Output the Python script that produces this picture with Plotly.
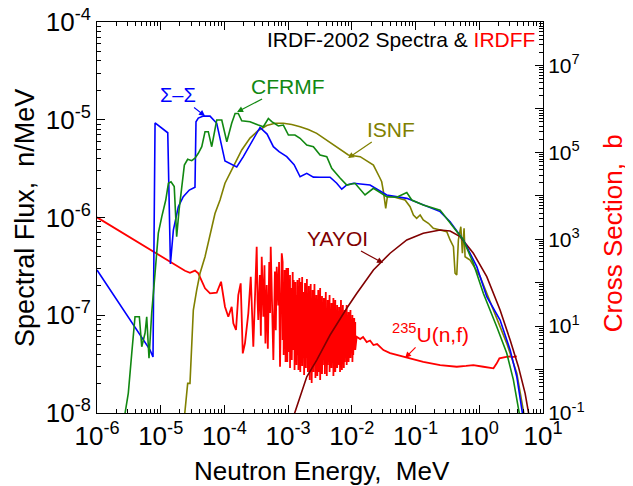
import math
import plotly.graph_objects as go

# ---------------- data ----------------
# Sigma-Sigma spectrum (n/MeV) vs energy (MeV)
ss_E = [1.0e-6, 6.79e-6, 7.57e-6, 8.15e-6, 1.29e-5, 1.42e-5, 1.58e-5, 1.89e-5, 2.26e-5, 2.81e-5,
        3.45e-5, 3.58e-5, 3.89e-5, 4.67e-5, 5.94e-5, 7.57e-5, 1.02e-4, 1.56e-4, 1.98e-4, 2.52e-4,
        3.62e-4, 4.67e-4, 5.86e-4, 7.20e-4, 9.51e-4, 1.24e-3, 1.54e-3, 1.96e-3, 2.49e-3, 3.17e-3,
        4.55e-3, 5.79e-3, 6.94e-3, 8.32e-3, 1.06e-2, 1.93e-2, 3.53e-2, 7.28e-2, 0.132, 0.243,
        0.348, 0.562, 0.914, 1.31, 2.12, 3.05, 3.88, 5.0]
ss_phi = [2.90e-7, 4.42e-8, 3.74e-8, 9.27e-6, 7.36e-6, 3.34e-7, 7.45e-7, 1.29e-6, 1.63e-6, 1.91e-6,
          2.04e-6, 9.55e-6, 1.04e-5, 1.09e-5, 1.09e-5, 9.20e-6, 3.78e-6, 3.29e-6, 4.19e-6, 5.46e-6,
          8.34e-6, 7.14e-6, 5.30e-6, 4.71e-6, 4.19e-6, 3.47e-6, 2.61e-6, 2.83e-6, 2.59e-6, 2.58e-6,
          2.58e-6, 2.24e-6, 1.95e-6, 2.15e-6, 2.24e-6, 2.15e-6, 1.70e-6, 1.57e-6, 1.34e-6, 1.15e-6,
          9.05e-7, 5.89e-7, 3.14e-7, 1.55e-7, 8.93e-8, 4.42e-8, 2.35e-8, 8.0e-9]

# CFRMF spectrum
cf_E = [2.69e-6, 2.92e-6, 3.10e-6, 3.51e-6, 3.95e-6, 4.62e-6, 5.04e-6, 5.68e-6, 6.03e-6, 6.55e-6,
        7.22e-6, 8.15e-6, 9.17e-6, 1.04e-5, 1.20e-5, 1.32e-5, 1.45e-5, 1.63e-5, 1.78e-5, 1.94e-5,
        2.18e-5, 2.35e-5, 2.65e-5, 3.07e-5, 3.45e-5, 3.89e-5, 4.41e-5, 4.96e-5, 5.58e-5, 6.32e-5,
        7.57e-5, 9.08e-5, 1.09e-4, 1.30e-4, 1.47e-4, 1.65e-4, 1.87e-4, 2.52e-4, 3.40e-4, 4.08e-4,
        4.89e-4, 5.53e-4, 7.02e-4, 8.41e-4, 1.01e-3, 1.28e-3, 1.54e-3, 1.96e-3, 2.49e-3, 3.17e-3,
        4.04e-3, 4.83e-3, 6.53e-3, 8.32e-3, 1.12e-2, 1.61e-2, 2.18e-2, 3.53e-2, 5.07e-2, 7.28e-2,
        8.71e-2, 0.132, 0.243, 0.348, 0.562, 0.807, 1.16, 1.88, 2.70, 3.43, 4.5]
cf_phi = [9.0e-9, 1.31e-8, 1.60e-8, 4.08e-8, 9.66e-8, 9.66e-8, 4.76e-8, 6.58e-8, 9.66e-8, 3.63e-8,
          1.05e-7, 2.70e-7, 6.93e-7, 1.02e-6, 1.51e-6, 2.24e-6, 2.32e-6, 2.07e-6, 6.37e-7, 1.19e-6,
          2.24e-6, 3.44e-6, 3.94e-6, 3.81e-6, 4.04e-6, 4.54e-6, 5.30e-6, 7.55e-6, 7.55e-6, 5.30e-6,
          9.93e-6, 9.93e-6, 5.96e-6, 9.20e-6, 1.16e-5, 1.16e-5, 9.77e-6, 9.55e-6, 8.83e-6, 8.49e-6,
          1.03e-5, 9.55e-6, 8.63e-6, 8.83e-6, 6.98e-6, 6.98e-6, 6.46e-6, 5.52e-6, 5.30e-6, 4.36e-6,
          4.19e-6, 3.18e-6, 2.54e-6, 2.15e-6, 2.24e-6, 1.70e-6, 1.99e-6, 1.63e-6, 1.61e-6, 1.80e-6,
          1.51e-6, 1.34e-6, 1.19e-6, 8.73e-7, 5.89e-7, 3.40e-7, 1.67e-7, 7.64e-8, 4.08e-8, 2.18e-8, 8.0e-9]

# ISNF spectrum
is_E = [2.35e-5, 2.65e-5, 2.88e-5, 3.25e-5, 3.67e-5, 4.14e-5, 4.96e-5, 5.94e-5, 7.11e-5, 8.53e-5,
        1.02e-4, 1.38e-4, 1.87e-4, 2.52e-4, 3.40e-4, 4.61e-4, 6.22e-4, 8.41e-4, 1.14e-3, 1.54e-3,
        2.07e-3, 2.81e-3, 3.79e-3, 5.13e-3, 6.53e-3, 8.81e-3, 1.35e-2, 2.18e-2, 2.77e-2, 2.94e-2,
        3.13e-2, 3.40e-2, 3.61e-2, 4.48e-2, 5.37e-2, 6.84e-2, 8.20e-2, 9.25e-2, 0.104, 0.118,
        0.132, 0.159, 0.190, 0.243, 0.309, 0.348, 0.393, 0.417, 0.443, 0.470,
        0.513, 0.543, 0.577, 0.598, 0.718, 1.03, 1.67, 2.70, 3.88, 5.3]
is_phi = [9.0e-9, 2.01e-8, 2.01e-8, 1.13e-7, 1.81e-7, 2.69e-7, 3.97e-7, 6.89e-7, 1.10e-6, 1.51e-6,
          2.24e-6, 3.31e-6, 4.91e-6, 6.50e-6, 7.76e-6, 8.73e-6, 9.20e-6, 9.20e-6, 8.93e-6, 8.49e-6,
          7.94e-6, 7.26e-6, 6.35e-6, 5.52e-6, 5.02e-6, 4.36e-6, 4.19e-6, 3.44e-6, 2.52e-6, 2.32e-6,
          1.84e-6, 1.24e-6, 1.63e-6, 1.63e-6, 1.57e-6, 1.51e-6, 1.29e-6, 1.06e-6, 9.82e-7, 1.06e-6,
          9.42e-7, 8.73e-7, 7.76e-7, 7.45e-7, 7.16e-7, 5.89e-7, 5.02e-7, 2.69e-7, 2.58e-7, 5.89e-7,
          8.05e-7, 4.31e-7, 7.76e-7, 3.97e-7, 3.67e-7, 2.48e-7, 1.13e-7, 5.16e-8, 2.55e-8, 8.0e-9]

# YAYOI spectrum
ya_E = [1.2e-3, 1.96e-3, 2.81e-3, 4.55e-3, 8.32e-3, 1.19e-2, 2.18e-2, 3.98e-2, 7.28e-2, 0.132,
        0.243, 0.348, 0.500, 0.807, 1.31, 2.12, 3.05, 4.11, 5.24, 6.3]
ya_phi = [9.0e-9, 2.35e-8, 3.48e-8, 6.28e-8, 1.18e-7, 1.67e-7, 2.90e-7, 4.31e-7, 5.89e-7, 6.89e-7,
          7.45e-7, 7.28e-7, 6.37e-7, 4.31e-7, 2.48e-7, 1.13e-7, 5.58e-8, 2.98e-8, 1.59e-8, 8.0e-9]

# 235U(n,f) cross section (b) vs energy (MeV), right axis
u_low_E = [1.0e-6, 2.40e-5, 2.88e-5, 3.45e-5, 3.89e-5, 4.96e-5, 5.94e-5, 7.57e-5, 8.85e-5, 9.62e-5]
u_low_sig = [3190, 188, 169, 190, 164, 74, 56.9, 58.7, 105, 47.5]

# isolated resonances
u_res_E = [1.02e-4, 1.15e-4, 1.30e-4, 1.38e-4, 1.52e-4, 1.65e-4, 1.80e-4, 1.94e-4, 2.10e-4, 2.37e-4,
           2.59e-4, 2.84e-4, 3.21e-4, 3.31e-4, 3.40e-4, 3.60e-4, 3.73e-4, 3.85e-4, 4.08e-4, 4.25e-4,
           4.40e-4, 4.61e-4, 4.80e-4, 5.05e-4, 5.20e-4, 5.33e-4, 5.60e-4, 5.86e-4, 6.20e-4, 6.40e-4,
           6.62e-4, 7.00e-4, 7.20e-4, 7.46e-4, 7.94e-4]
u_res_sig = [27.9, 16.4, 27.9, 11.6, 8.13, 51.9, 96.6, 2.36, 4.02, 19.7,
             137, 3.35, 671, 40, 13.8, 150, 6.0, 395, 16.4, 250,
             4.0, 88.3, 3.0, 300, 20, 671, 10, 1.66, 180, 8.0,
             233, 30, 300, 1.16, 473]

# dense resonance band: peak and valley at each energy
u_band_E = [8.2e-4, 8.5e-4, 8.8e-4, 9.1e-4, 9.4e-4, 9.7e-4,
            1.00e-3, 1.03e-3, 1.07e-3, 1.10e-3, 1.14e-3, 1.18e-3, 1.22e-3, 1.26e-3, 1.30e-3, 1.35e-3,
            1.40e-3, 1.45e-3, 1.50e-3, 1.55e-3, 1.60e-3, 1.66e-3, 1.72e-3, 1.78e-3, 1.84e-3, 1.90e-3,
            1.97e-3, 2.04e-3, 2.11e-3, 2.18e-3, 2.26e-3, 2.34e-3, 2.42e-3, 2.50e-3, 2.59e-3, 2.68e-3,
            2.77e-3, 2.87e-3, 2.97e-3, 3.07e-3, 3.18e-3, 3.29e-3, 3.40e-3, 3.52e-3, 3.64e-3, 3.77e-3,
            3.90e-3, 4.04e-3, 4.18e-3, 4.32e-3, 4.47e-3, 4.63e-3, 4.79e-3, 4.96e-3, 5.13e-3, 5.31e-3,
            5.49e-3, 5.68e-3, 5.88e-3, 6.09e-3, 6.30e-3, 6.52e-3, 6.75e-3, 6.98e-3, 7.23e-3, 7.48e-3,
            7.74e-3, 8.01e-3, 8.29e-3, 8.58e-3, 8.88e-3, 9.19e-3, 9.51e-3, 9.84e-3, 1.02e-2, 1.05e-2,
            1.09e-2, 1.13e-2]
u_band_hi = [299, 88.3, 196, 51.9, 217, 67.7, 217, 39.9, 150, 75.3,
             67.7, 176, 115, 39.9, 103, 51.9, 115, 30.6, 128, 39.9,
             103, 135, 60.9, 30.6, 98.1, 39.9, 121, 44.3, 83.7, 30.6,
             93.0, 39.9, 67.7, 23.5, 93.0, 30.6, 51.9, 21.1, 67.7, 30.6,
             75.3, 23.5, 49.3, 18.0, 44.3, 34.0, 60.9, 15.4, 39.9, 23.5,
             51.9, 13.8, 34.0, 18.0, 44.3, 21.1, 39.9, 15.4, 30.6, 12.4,
             27.5, 18.0, 39.9, 10.6, 30.6, 15.4, 23.5, 10.6, 30.6, 13.8,
             21.1, 9.03, 23.5, 12.4, 18.0, 10.6, 15.4, 12.4]
u_band_lo = [4.78, 2.16, 8.12, 1.49, 3.67, 1.49, 6.23, 2.53, 1.09, 3.67,
             1.66, 3.67, 2.82, 0.975, 4.78, 1.27, 2.16, 0.975, 2.82, 0.877,
             2.16, 1.21, 3.67, 0.748, 2.82, 1.09, 1.84, 0.877, 1.66, 0.574,
             1.27, 0.490, 1.66, 0.877, 2.53, 0.638, 1.27, 0.710, 2.16, 0.877,
             0.574, 1.66, 0.789, 1.27, 1.66, 0.789, 2.82, 0.710, 1.27, 1.84,
             0.877, 1.49, 1.09, 1.84, 0.710, 1.66, 0.877, 1.49, 1.09, 2.16,
             1.27, 0.877, 1.66, 0.975, 2.16, 1.09, 1.49, 1.84, 1.27, 2.16,
             1.49, 2.53, 1.84, 2.82, 1.49, 2.16, 2.82, 2.82]

u_fast_E = [1.19e-2, 1.35e-2, 1.50e-2, 1.71e-2, 1.93e-2, 2.18e-2, 2.49e-2, 3.13e-2, 3.98e-2, 5.71e-2,
            8.20e-2, 0.132, 0.243, 0.443, 0.621, 0.807, 1.16, 1.67, 1.88, 2.07,
            2.54, 3.05, 3.27, 3.88]
u_fast_sig = [5.69, 5.03, 5.60, 4.30, 4.66, 3.67, 3.87, 2.81, 2.40, 2.10,
              1.84, 1.51, 1.27, 1.16, 1.21, 1.27, 1.16, 1.07, 1.39, 1.81,
              1.94, 2.01, 1.94, 2.01]

x_ticks = [1e-6, 1e-5, 1e-4, 1e-3, 1e-2, 1e-1, 1e0, 1e1]
x_labels = ["10<sup>-6</sup>", "10<sup>-5</sup>", "10<sup>-4</sup>", "10<sup>-3</sup>",
            "10<sup>-2</sup>", "10<sup>-1</sup>", "10<sup>0</sup>", "10<sup>1</sup>"]
yl_ticks = [1e-8, 1e-7, 1e-6, 1e-5, 1e-4]
yl_labels = ["10<sup>-8</sup>", "10<sup>-7</sup>", "10<sup>-6</sup>", "10<sup>-5</sup>", "10<sup>-4</sup>"]
yr_ticks = [1e-1, 1e0, 1e1, 1e2, 1e3, 1e4, 1e5, 1e6, 1e7, 1e8]
yr_labels = ["10<sup>-1</sup>", "", "10<sup>1</sup>", "", "10<sup>3</sup>", "",
             "10<sup>5</sup>", "", "10<sup>7</sup>", ""]

FONT = "Arial, Liberation Sans, sans-serif"
BLUE, GREEN, OLIVE, BROWN, RED = "#0000ff", "#118811", "#808000", "#800000", "#ff0000"

# assemble the 235U curve: band drawn as peak/valley pairs at each energy
band_E, band_sig = [], []
for E, hi, lo in zip(u_band_E, u_band_hi, u_band_lo):
    band_E += [E, E]
    band_sig += [hi, lo]
u_E = u_low_E + u_res_E + band_E + u_fast_E
u_sig = u_low_sig + u_res_sig + band_sig + u_fast_sig

fig = go.Figure()
fig.add_trace(go.Scatter(x=u_E, y=u_sig, mode="lines", yaxis="y",
                         line=dict(color=RED, width=1.8), showlegend=False))
for E, phi, col in [(is_E, is_phi, OLIVE), (ya_E, ya_phi, BROWN), (ss_E, ss_phi, BLUE), (cf_E, cf_phi, GREEN)]:
    fig.add_trace(go.Scatter(x=E, y=phi, mode="lines", yaxis="y2",
                             line=dict(color=col, width=1.6), showlegend=False))

common = dict(showgrid=False, zeroline=False, showline=True, linecolor="black", linewidth=1,
              ticks="inside", ticklen=8, tickwidth=1, tickcolor="black", tickmode="array",
              automargin=False, ticklabeloverflow="allow",
              minor=dict(ticks="inside", ticklen=4, tickwidth=1, tickcolor="black", dtick="D1"))

# the page body adds an 8 px offset; the figure is sized so it ends at the window edge
fig.update_layout(
    width=625, height=478,
    margin=dict(l=89, r=90, t=14, b=73, autoexpand=False),
    paper_bgcolor="white", plot_bgcolor="white",
    font=dict(family=FONT, color="black"),
    xaxis=dict(type="log", range=[-6, 1], tickvals=x_ticks, ticktext=x_labels, mirror="ticks",
               tickfont=dict(size=26, family=FONT, color="black"), **common),
    yaxis=dict(type="log", range=[-1, 8], side="right", tickvals=yr_ticks, ticktext=yr_labels,
               tickfont=dict(size=21, family=FONT, color="black"), **common),
    yaxis2=dict(type="log", range=[-8, -4], side="left", overlaying="y", tickvals=yl_ticks,
                ticktext=yl_labels, tickfont=dict(size=26, family=FONT, color="black"), **common),
)

def lab(text, color, E, val, ax, ay, yref="y2", size=21):
    return dict(text=text, x=math.log10(E), y=math.log10(val), xref="x", yref=yref,
                showarrow=True, ax=ax, ay=ay, arrowhead=2, arrowsize=1, arrowwidth=1.2,
                arrowcolor=color, font=dict(size=size, color=color, family=FONT))

annotations = [
    lab("Σ–Σ", BLUE, 4.96e-5, 1.09e-5, -27, -21, size=20),
    lab("CFRMF", GREEN, 1.58e-4, 1.20e-5, 50, -26),
    lab("ISNF", OLIVE, 8.71e-3, 4.06e-6, 43, -29),
    lab("YAYOI", BROWN, 3.09e-2, 3.42e-7, -46, -25),
    lab("<sup>235</sup>U(n,f)", RED, 6.84e-2, 3.66e-8, 25, -25),
    dict(text="IRDF-2002 Spectra & <span style='color:#ff0000'>IRDFF</span>", xref="paper", yref="paper",
         x=0.9865, y=0.9565, xanchor="right", yanchor="middle", showarrow=False,
         font=dict(size=21, color="black", family=FONT)),
    dict(text="Spectral Flux,\u00a0 n/MeV", xref="paper", yref="paper", x=-0.1614, y=0.499,
         textangle=-90, showarrow=False, xanchor="center", yanchor="middle",
         font=dict(size=27, color="black", family=FONT)),
    dict(text="Cross Section,\u00a0 b", xref="paper", yref="paper", x=1.157, y=0.46,
         textangle=-90, showarrow=False, xanchor="center", yanchor="middle",
         font=dict(size=26, color=RED, family=FONT)),
    dict(text="Neutron Energy,\u00a0 MeV", xref="paper", yref="paper", x=0.504, y=-0.148,
         showarrow=False, xanchor="center", yanchor="middle",
         font=dict(size=26, color="black", family=FONT)),
]
fig.update_layout(annotations=annotations)

fig.write_html("out.html")
